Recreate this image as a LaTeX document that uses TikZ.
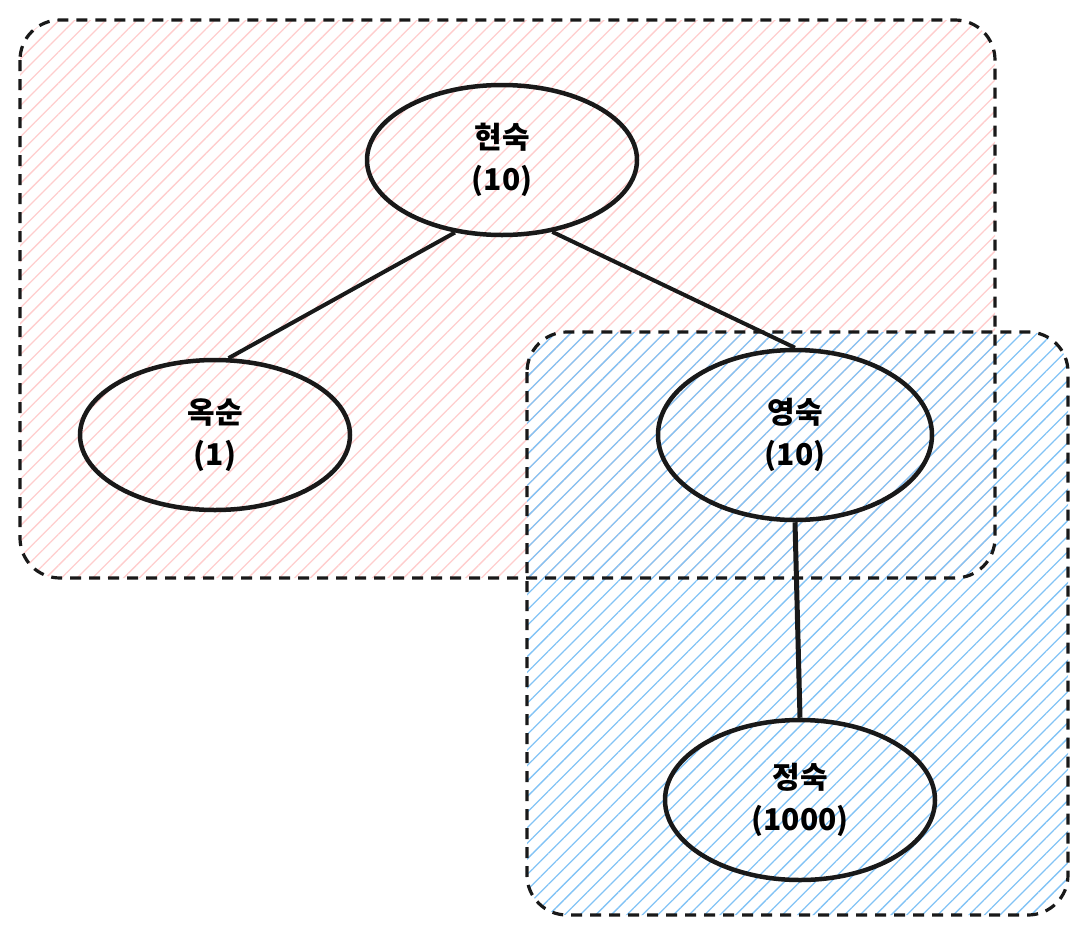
\documentclass[tikz,border=0pt]{standalone}
\usepackage{fontspec}
\setmainfont{Noto Sans CJK KR}
\usetikzlibrary{patterns.meta,shapes.geometric}
\definecolor{pinkh}{RGB}{255,205,205}
\definecolor{blueh}{RGB}{130,195,245}
\begin{document}
\begin{tikzpicture}[x=1pt,y=-1pt,
  region/.style={draw=black!90,line width=3.2pt,dash pattern=on 11pt off 8pt,rounded corners=40pt},
  person/.style={draw=black!90,line width=4.5pt,ellipse,align=center,font=\fontsize{30}{42}\selectfont\bfseries,inner sep=0pt},
  link/.style={draw=black!90,line width=4pt}]
\useasboundingbox (0,0) rectangle (1085,935);
\path[rounded corners=40pt,pattern={Lines[angle=45,distance=11pt,line width=1.3pt]},pattern color=pinkh] (20,20) rectangle (995,578);
\path[rounded corners=40pt,pattern={Lines[angle=45,distance=11pt,line width=1.3pt]},pattern color=blueh] (527,332) rectangle (1068,915);
\draw[region] (20,20) rectangle (995,578);
\draw[region] (527,332) rectangle (1068,915);
\node[person,minimum width=270pt,minimum height=150pt] (h) at (502,160) {현숙\\(10)};
\node[person,minimum width=270pt,minimum height=150pt] (o) at (215,435) {옥순\\(1)};
\node[person,minimum width=274pt,minimum height=170pt] (y) at (795,435) {영숙\\(10)};
\node[person,minimum width=270pt,minimum height=160pt] (j) at (800,800) {정숙\\(1000)};
\draw[link] (h.-123) -- (o.80);
\draw[link] (h.-55) -- (y.90);
\draw[link,line width=5pt] (y.south) -- (j.north);
\end{tikzpicture}
\end{document}
